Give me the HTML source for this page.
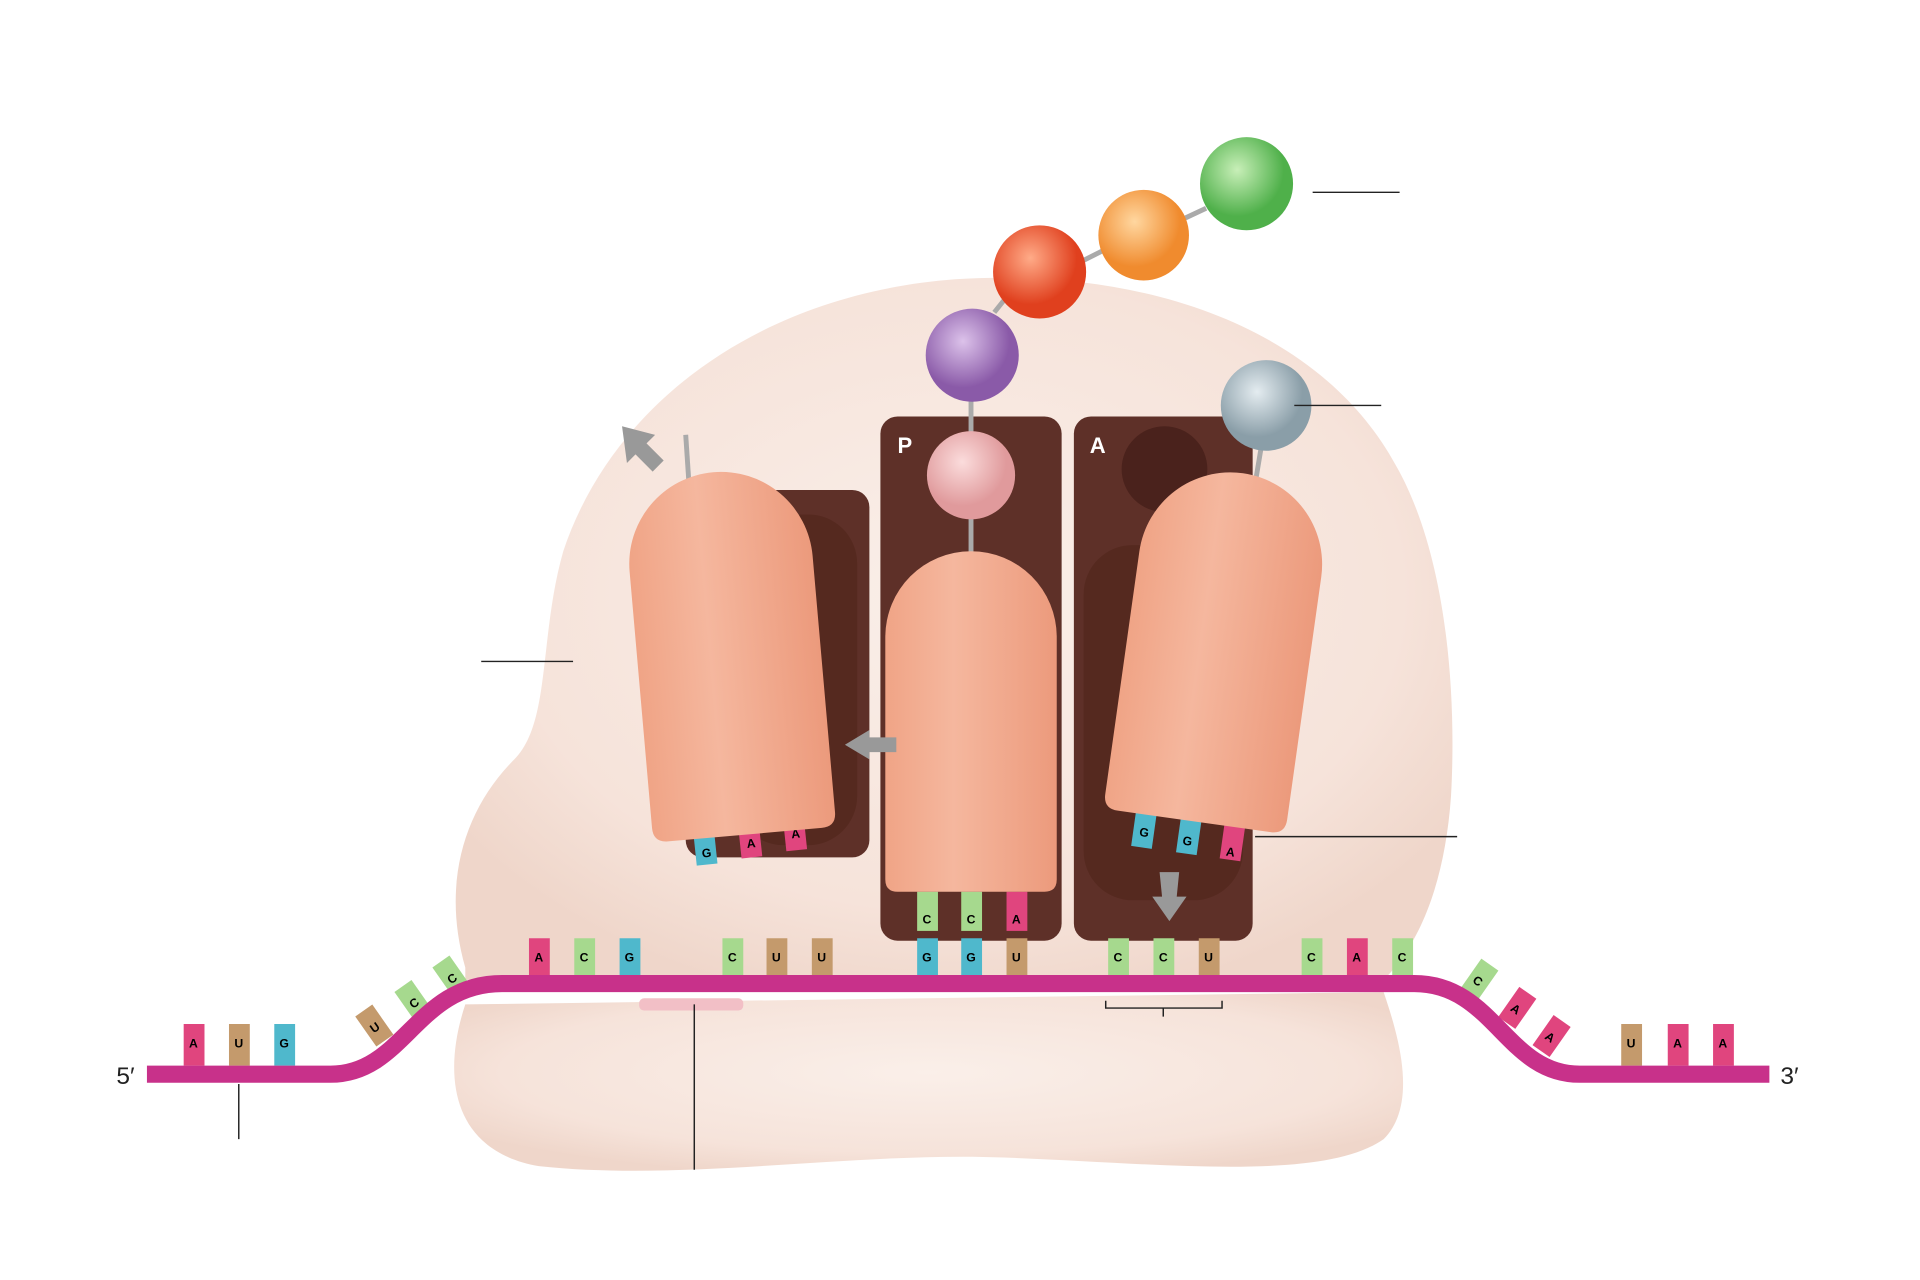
<!DOCTYPE html>
<html><head><meta charset="utf-8"><style>
html,body{margin:0;padding:0;background:#fff;width:1920px;height:1280px;overflow:hidden}
svg{display:block}
text{font-family:"Liberation Sans",sans-serif}
</style></head><body>
<svg width="1920" height="1280" viewBox="0 0 1568 1045" preserveAspectRatio="none" xmlns="http://www.w3.org/2000/svg">
<defs>
<radialGradient id="rib" cx="50%" cy="45%" r="60%"><stop offset="0" stop-color="#faefe9"/><stop offset="0.75" stop-color="#f6e3da"/><stop offset="1" stop-color="#efd6ca"/></radialGradient>
<linearGradient id="trna" x1="0" x2="1"><stop offset="0" stop-color="#f0a486"/><stop offset="0.4" stop-color="#f5b79e"/><stop offset="1" stop-color="#ec9a7c"/></linearGradient>
<radialGradient id="gG" cx="40%" cy="35%"><stop offset="0" stop-color="#c8efb8"/><stop offset="1" stop-color="#4fb04a"/></radialGradient>
<radialGradient id="gO" cx="40%" cy="35%"><stop offset="0" stop-color="#ffd7a0"/><stop offset="1" stop-color="#f08b2e"/></radialGradient>
<radialGradient id="gR" cx="40%" cy="35%"><stop offset="0" stop-color="#ffab88"/><stop offset="1" stop-color="#e0401e"/></radialGradient>
<radialGradient id="gP" cx="40%" cy="35%"><stop offset="0" stop-color="#dcc2ea"/><stop offset="1" stop-color="#8a5aa8"/></radialGradient>
<radialGradient id="gK" cx="40%" cy="35%"><stop offset="0" stop-color="#fbdcdc"/><stop offset="1" stop-color="#e09a9c"/></radialGradient>
<radialGradient id="gY" cx="40%" cy="35%"><stop offset="0" stop-color="#e4ecf0"/><stop offset="1" stop-color="#8a9ea8"/></radialGradient>
</defs>
<path d="M380 820 C360 880 370 940 440 952 C560 965 700 940 820 945 C950 950 1080 965 1130 930 C1160 900 1140 840 1130 810 Z" fill="url(#rib)"/>
<path d="M380 790 C360 720 380 660 420 620 C450 590 440 520 460 450 C500 330 620 240 780 228 C940 218 1080 270 1140 380 C1180 450 1190 560 1185 650 C1180 720 1160 770 1130 800 L380 800 Z" fill="url(#rib)"/>
<rect x="560" y="400" width="150" height="300" rx="14" fill="#5e3028"/>
<rect x="600" y="420" width="100" height="270" rx="40" fill="#55291f"/>
<rect x="719" y="340" width="148" height="428" rx="14" fill="#5e3028"/>
<rect x="877" y="340" width="146" height="428" rx="14" fill="#5e3028"/>
<rect x="885" y="445" width="130" height="290" rx="40" fill="#55291f"/>
<text x="733" y="370" font-size="18" font-weight="bold" fill="#fff">P</text>
<text x="890" y="370" font-size="18" font-weight="bold" fill="#fff">A</text>
<circle cx="951" cy="383" r="35" fill="#4a221c"/>
<g stroke="#aaa" stroke-width="4">
<line x1="560" y1="355" x2="563" y2="400"/>
<line x1="793" y1="325" x2="793" y2="360"/>
<line x1="793" y1="420" x2="793" y2="455"/>
<line x1="1030" y1="365" x2="1025" y2="395"/>
<line x1="812" y1="255" x2="820" y2="245"/>
<line x1="884" y1="213" x2="900" y2="205"/>
<line x1="968" y1="178" x2="985" y2="170"/>
</g>
<g font-size="10" font-weight="bold" text-anchor="middle">
<g transform="rotate(-6 613 685)">
<rect x="567" y="670" width="17" height="32" fill="#4fb8cc"/><text x="576" y="696">G</text>
<rect x="604" y="668" width="17" height="32" fill="#e0457e"/><text x="613" y="692">A</text>
<rect x="641" y="666" width="17" height="32" fill="#e0457e"/><text x="650" y="688">A</text>
</g>
<rect x="749" y="728" width="17" height="32" fill="#a6d98e"/><text x="757" y="754">C</text>
<rect x="785" y="728" width="17" height="32" fill="#a6d98e"/><text x="793" y="754">C</text>
<rect x="822" y="728" width="17" height="32" fill="#e0457e"/><text x="830" y="754">A</text>
<g transform="rotate(8 970 685)">
<rect x="925" y="665" width="17" height="32" fill="#4fb8cc"/><text x="934" y="688">G</text>
<rect x="962" y="665" width="17" height="32" fill="#4fb8cc"/><text x="970" y="690">G</text>
<rect x="998" y="665" width="17" height="32" fill="#e0457e"/><text x="1006" y="694">A</text>
</g>
</g>
<g transform="rotate(-5 595 530)"><path d="M520 670 L520 460 A75 75 0 0 1 670 460 L670 670 Q670 682 658 682 L532 682 Q520 682 520 670Z" fill="url(#trna)"/></g>
<path d="M723 718 L723 520 A70 70 0 0 1 863 520 L863 718 Q863 728 853 728 L733 728 Q723 728 723 718Z" fill="url(#trna)"/>
<g transform="rotate(8 995 530)"><path d="M920 660 L920 460 A75 75 0 0 1 1070 460 L1070 660 Q1070 672 1058 672 L932 672 Q920 672 920 660Z" fill="url(#trna)"/></g>
<circle cx="1018" cy="150" r="38" fill="url(#gG)"/>
<circle cx="934" cy="192" r="37" fill="url(#gO)"/>
<circle cx="849" cy="222" r="38" fill="url(#gR)"/>
<circle cx="794" cy="290" r="38" fill="url(#gP)"/>
<circle cx="793" cy="388" r="36" fill="url(#gK)"/>
<circle cx="1034" cy="331" r="37" fill="url(#gY)"/>
<g fill="#999">
<polygon points="508,348 535,355 528,362 542,376 533,385 519,371 512,378"/>
<polygon points="690,608 710,596 710,602 732,602 732,614 710,614 710,620"/>
<polygon points="955,752 941,732 949,732 947,712 963,712 961,732 969,732"/>
</g>
<g font-size="10" font-weight="bold" text-anchor="middle">
<rect x="432" y="766" width="17" height="30" fill="#e0457e"/><text x="440" y="785">A</text>
<rect x="469" y="766" width="17" height="30" fill="#a6d98e"/><text x="477" y="785">C</text>
<rect x="506" y="766" width="17" height="30" fill="#4fb8cc"/><text x="514" y="785">G</text>
<rect x="590" y="766" width="17" height="30" fill="#a6d98e"/><text x="598" y="785">C</text>
<rect x="626" y="766" width="17" height="30" fill="#c49a6c"/><text x="634" y="785">U</text>
<rect x="663" y="766" width="17" height="30" fill="#c49a6c"/><text x="671" y="785">U</text>
<rect x="749" y="766" width="17" height="30" fill="#4fb8cc"/><text x="757" y="785">G</text>
<rect x="785" y="766" width="17" height="30" fill="#4fb8cc"/><text x="793" y="785">G</text>
<rect x="822" y="766" width="17" height="30" fill="#c49a6c"/><text x="830" y="785">U</text>
<rect x="905" y="766" width="17" height="30" fill="#a6d98e"/><text x="913" y="785">C</text>
<rect x="942" y="766" width="17" height="30" fill="#a6d98e"/><text x="950" y="785">C</text>
<rect x="979" y="766" width="17" height="30" fill="#c49a6c"/><text x="987" y="785">U</text>
<rect x="1063" y="766" width="17" height="30" fill="#a6d98e"/><text x="1071" y="785">C</text>
<rect x="1100" y="766" width="17" height="30" fill="#e0457e"/><text x="1108" y="785">A</text>
<rect x="1137" y="766" width="17" height="30" fill="#a6d98e"/><text x="1145" y="785">C</text>
<rect x="150" y="836" width="17" height="34" fill="#e0457e"/><text x="158" y="855">A</text>
<rect x="187" y="836" width="17" height="34" fill="#c49a6c"/><text x="195" y="855">U</text>
<rect x="224" y="836" width="17" height="34" fill="#4fb8cc"/><text x="232" y="855">G</text>
<rect x="1324" y="836" width="17" height="34" fill="#c49a6c"/><text x="1332" y="855">U</text>
<rect x="1362" y="836" width="17" height="34" fill="#e0457e"/><text x="1370" y="855">A</text>
<rect x="1399" y="836" width="17" height="34" fill="#e0457e"/><text x="1407" y="855">A</text>
<g transform="rotate(-35 307 840)"><rect x="299" y="822" width="17" height="30" fill="#c49a6c"/><text x="307" y="842">U</text></g>
<g transform="rotate(-35 339 820)"><rect x="331" y="802" width="17" height="30" fill="#a6d98e"/><text x="339" y="822">C</text></g>
<g transform="rotate(-35 370 800)"><rect x="362" y="782" width="17" height="30" fill="#a6d98e"/><text x="370" y="802">C</text></g>
<g transform="rotate(35 1206 802)"><rect x="1198" y="784" width="17" height="30" fill="#a6d98e"/><text x="1206" y="804">C</text></g>
<g transform="rotate(35 1237 825)"><rect x="1229" y="807" width="17" height="30" fill="#e0457e"/><text x="1237" y="827">A</text></g>
<g transform="rotate(35 1265 848)"><rect x="1257" y="830" width="17" height="30" fill="#e0457e"/><text x="1265" y="850">A</text></g>
</g>
<path d="M120 877 L270 877 C330 877 340 803 410 803 L1155 803 C1220 803 1230 877 1290 877 L1445 877" fill="none" stroke="#c8318a" stroke-width="14"/>
<rect x="522" y="815" width="85" height="10" rx="4" fill="#f2bfc6"/>
<text x="95" y="885" font-size="20" fill="#222">5′</text>
<text x="1454" y="885" font-size="20" fill="#222">3′</text>
<g stroke="#222" stroke-width="1.2" fill="none">
<line x1="1072" y1="157" x2="1143" y2="157"/>
<line x1="1057" y1="331" x2="1128" y2="331"/>
<line x1="393" y1="540" x2="468" y2="540"/>
<line x1="1025" y1="683" x2="1190" y2="683"/>
<line x1="195" y1="885" x2="195" y2="930"/>
<line x1="567" y1="820" x2="567" y2="955"/>
<path d="M903 817 L903 823 L998 823 L998 817 M950 823 L950 830"/>
</g>
</svg>
</body></html>
